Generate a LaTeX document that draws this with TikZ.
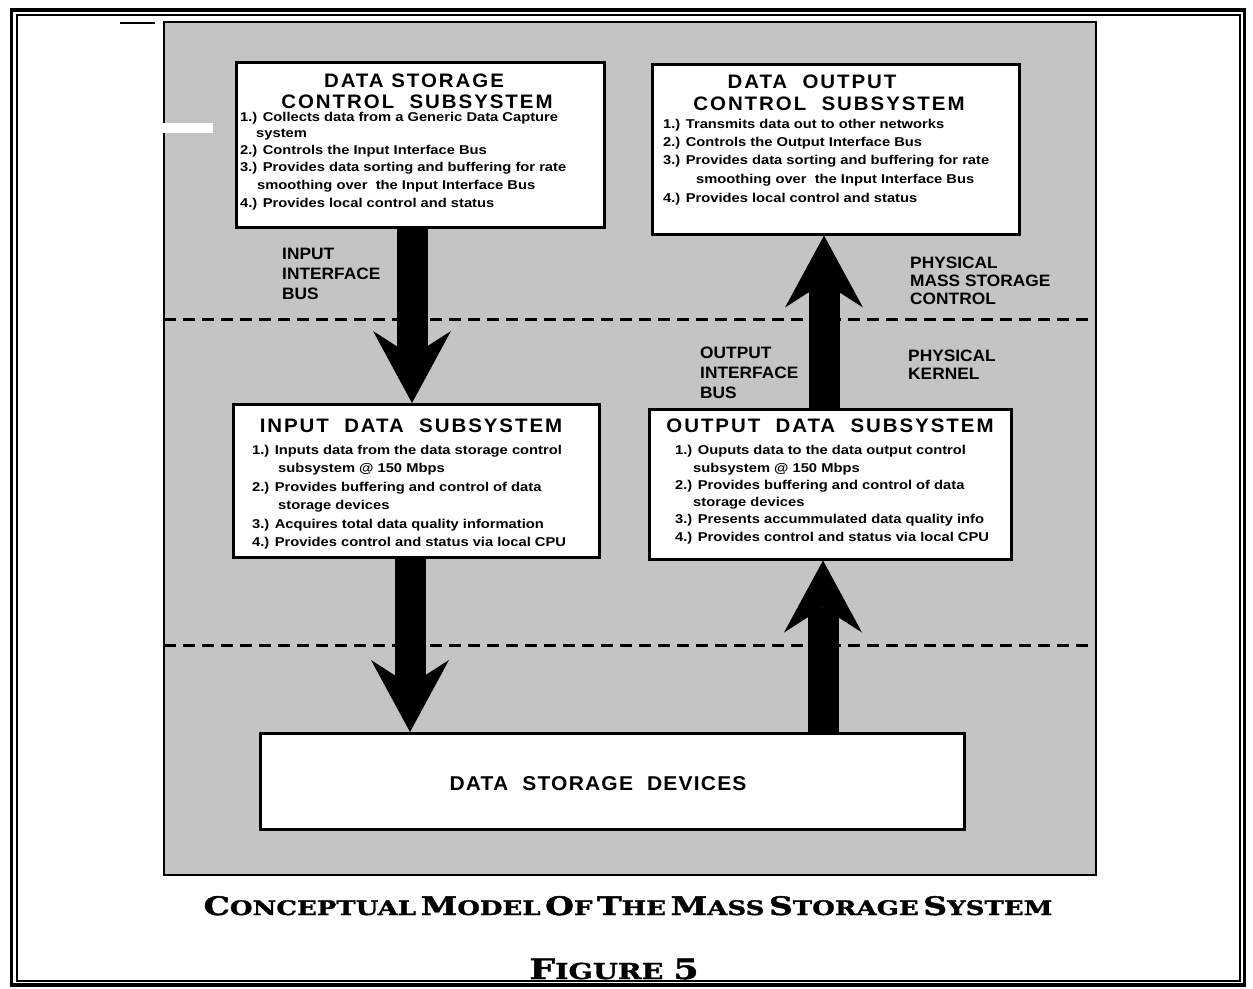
\documentclass[tikz,border=0pt]{standalone}
\usepackage{fontspec}
\setmainfont{Liberation Sans}
\newfontfamily\itemfont{Liberation Sans}[FakeStretch=1.15]
\newfontfamily\titlefont{Liberation Sans}[FakeStretch=1.05,LetterSpace=10]
\newfontfamily\labelfont{Liberation Sans}[FakeStretch=1.05]
\newfontfamily\devfont{Liberation Sans}[FakeStretch=1.05,LetterSpace=6]
\newfontfamily\capfont{DejaVu Serif}[FakeStretch=1.3,FakeBold=1.5]
\usetikzlibrary{arrows.meta}
\newcommand\capbig[1]{{\fontsize{25.5}{26}\selectfont #1}}
\newcommand\capsml[1]{{\fontsize{20}{20}\selectfont #1}}
\begin{document}
\begin{tikzpicture}[x=1pt,y=-1pt,
  panel/.style={draw,line width=2.5pt,fill=black!23},
  sysbox/.style={draw,line width=2.5pt,fill=white,inner sep=0pt,anchor=north west},
  divider/.style={line width=3pt,dash pattern=on 12pt off 7pt},
  fat/.style={line width=31pt,-{Stealth[length=72pt,width=78pt,inset=25pt,line width'=0pt]}},
  itm/.style={font=\itemfont\bfseries\fontsize{12.8}{14}\selectfont,anchor=base west,inner sep=0pt},
  ttl/.style={font=\titlefont\bfseries\fontsize{19.5}{21}\selectfont,anchor=base,inner sep=0pt},
  lbl/.style={font=\labelfont\bfseries\fontsize{16.5}{18}\selectfont,anchor=base west,inner sep=0pt},
  dev/.style={font=\devfont\bfseries\fontsize{20}{22}\selectfont,anchor=base,inner sep=0pt},
  captxt/.style={font=\capfont\bfseries,anchor=base,inner sep=0pt}]
\useasboundingbox (0,0) rectangle (1253,988);
\fill[white] (0,0) rectangle (1253,988);
% outer double frame
\draw[line width=3.5pt] (11.5,10) rectangle (1244.5,985);
\draw[line width=2pt] (16.5,14.5) rectangle (1239.5,980.5);
\draw[line width=1.5pt] (120,23) -- (155,23);
% panel
\draw[panel] (164,22) rectangle (1096,875);
\fill[white] (162,123) rectangle (213,133);
% dividers
\coordinate (dl1) at (164,319);
\coordinate (dr1) at (1096,319);
\coordinate (dl2) at (164,645);
\coordinate (dr2) at (1096,645);
\draw[divider] (dl1) -- (dr1);
\draw[divider] (dl2) -- (dr2);
% boxes
\node[sysbox,minimum width=368pt,minimum height=165pt] (dsc) at (235,61) {};
\node[sysbox,minimum width=367pt,minimum height=170pt] (doc) at (651,63) {};
\node[sysbox,minimum width=366pt,minimum height=153pt] (ids) at (232,403) {};
\node[sysbox,minimum width=362pt,minimum height=150pt] (ods) at (648,408) {};
\node[sysbox,minimum width=704pt,minimum height=96pt] (dsd) at (259,732) {};
% arrows
\coordinate (a1) at (412,0);
\coordinate (a2) at (410,0);
\coordinate (a3) at (824,0);
\coordinate (a4) at (823,0);
\draw[fat] (dsc.south -| a1) -- (ids.north -| a1);
\draw[fat] (ids.south -| a2) -- (dsd.north -| a2);
\draw[fat] (ods.north -| a3) -- (doc.south -| a3);
\draw[fat] (dsd.north -| a4) -- (ods.south -| a4);
% DSC text
\node[ttl] (dsc-t1) at (414,87) {DATA STORAGE};
\node[ttl] (dsc-t2) at (417,108) {CONTROL\ \ SUBSYSTEM};
\node[itm] (dsc-1) at (240,121) {1.) Collects data from a Generic Data Capture};
\node[itm] (dsc-1b) at (256,137) {system};
\node[itm] (dsc-2) at (240,154) {2.) Controls the Input Interface Bus};
\node[itm] (dsc-3) at (240,171) {3.) Provides data sorting and buffering for rate};
\node[itm] (dsc-3b) at (257,189) {smoothing over\ \ the Input Interface Bus};
\node[itm] (dsc-4) at (240,207) {4.) Provides local control and status};
% DOC text
\node[ttl] (doc-t1) at (812,88) {DATA\ \ OUTPUT};
\node[ttl] (doc-t2) at (829,110) {CONTROL\ \ SUBSYSTEM};
\node[itm] (doc-1) at (663,128) {1.) Transmits data out to other networks};
\node[itm] (doc-2) at (663,146) {2.) Controls the Output Interface Bus};
\node[itm] (doc-3) at (663,164) {3.) Provides data sorting and buffering for rate};
\node[itm] (doc-3b) at (696,183) {smoothing over\ \ the Input Interface Bus};
\node[itm] (doc-4) at (663,202) {4.) Provides local control and status};
% IDS text
\node[ttl] (ids-t) at (411,432) {INPUT\ \ DATA\ \ SUBSYSTEM};
\node[itm] (ids-1) at (252,454) {1.) Inputs data from the data storage control};
\node[itm] (ids-1b) at (278,472) {subsystem @ 150 Mbps};
\node[itm] (ids-2) at (252,491) {2.) Provides buffering and control of data};
\node[itm] (ids-2b) at (278,509) {storage devices};
\node[itm] (ids-3) at (252,528) {3.) Acquires total data quality information};
\node[itm] (ids-4) at (252,546) {4.) Provides control and status via local CPU};
% ODS text
\node[ttl] (ods-t) at (830,432) {OUTPUT\ \ DATA\ \ SUBSYSTEM};
\node[itm] (ods-1) at (675,454) {1.) Ouputs data to the data output control};
\node[itm] (ods-1b) at (693,472) {subsystem @ 150 Mbps};
\node[itm] (ods-2) at (675,489) {2.) Provides buffering and control of data};
\node[itm] (ods-2b) at (693,506) {storage devices};
\node[itm] (ods-3) at (675,523) {3.) Presents accummulated data quality info};
\node[itm] (ods-4) at (675,541) {4.) Provides control and status via local CPU};
% DSD text
\node[dev] (dsd-t) at (598,790) {DATA\ \ STORAGE\ \ DEVICES};
% labels
\node[lbl] (iib-1) at (282,259) {INPUT};
\node[lbl] (iib-2) at (282,279) {INTERFACE};
\node[lbl] (iib-3) at (282,299) {BUS};
\node[lbl] (pm-1) at (910,268) {PHYSICAL};
\node[lbl] (pm-2) at (910,286) {MASS STORAGE};
\node[lbl] (pm-3) at (910,304) {CONTROL};
\node[lbl] (oib-1) at (700,358) {OUTPUT};
\node[lbl] (oib-2) at (700,378) {INTERFACE};
\node[lbl] (oib-3) at (700,398) {BUS};
\node[lbl] (pk-1) at (908,361) {PHYSICAL};
\node[lbl] (pk-2) at (908,379) {KERNEL};
% caption
\node[captxt] (caption) at (628,915) {\capbig{C}\capsml{ONCEPTUAL} \capbig{M}\capsml{ODEL} \capbig{O}\capsml{F} \capbig{T}\capsml{HE} \capbig{M}\capsml{ASS} \capbig{S}\capsml{TORAGE} \capbig{S}\capsml{YSTEM}};
\node[captxt] (figure) at (614,979) {\fontsize{28}{28}\selectfont F\fontsize{22}{22}\selectfont IGURE \fontsize{28}{28}\selectfont 5};
\end{tikzpicture}
\end{document}
